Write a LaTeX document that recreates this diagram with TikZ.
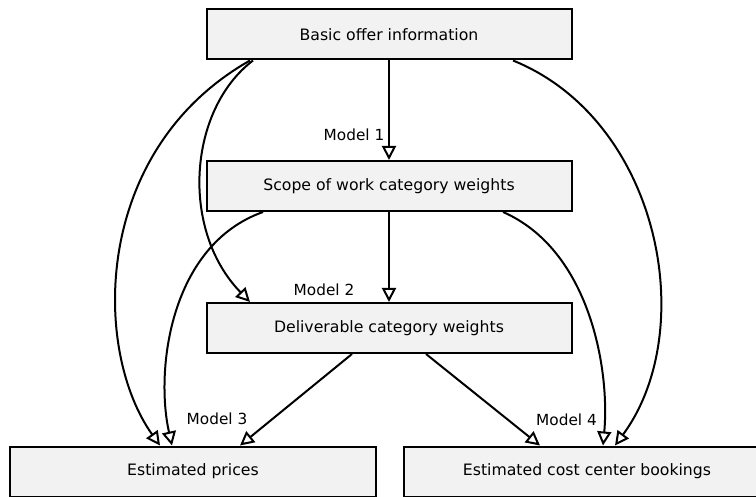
\documentclass[tikz,border=0pt]{standalone}
\usepackage{fontspec}
\setmainfont{DejaVu Sans}
\usetikzlibrary{arrows.meta}
\definecolor{boxgray}{HTML}{F2F2F2}
\begin{document}
\begin{tikzpicture}[x=1pt,y=-1pt,
  box/.style={draw=black,line width=2pt,fill=boxgray,minimum width=365pt,
    minimum height=50pt,inner sep=0pt,font=\fontsize{15.7}{18}\selectfont},
  flow/.style={line width=2pt,-{Triangle[length=14pt,width=14pt,fill=white]}},
  lbl/.style={font=\fontsize{15.3}{18}\selectfont,inner sep=0pt}]
\useasboundingbox (0,0) rectangle (756,497);

% boxes
\node[box] (basic) at (389,34.5) {Basic offer information};
\node[box] (scope) at (389,186) {Scope of work category weights};
\node[box] (deliv) at (389,328) {Deliverable category weights};
\node[box,minimum width=366pt] (prices) at (193,471.5) {Estimated prices};
\node[box,minimum width=366pt] (cost) at (587,471.5) {Estimated cost center bookings};

% model labels
\node[lbl] (m1) at (354,135) {Model 1};
\node[lbl] (m2) at (324,290) {Model 2};
\node[lbl] (m3) at (217,419) {Model 3};
\node[lbl] (m4) at (566.5,420) {Model 4};

% straight connectors
\draw[flow] (basic.south) -- (scope.north);
\draw[flow] (scope.south) -- (deliv.north);
\draw[flow] ([xshift=-37pt]deliv.south) -- ([xshift=47pt]prices.north);
\draw[flow] ([xshift=37pt]deliv.south) -- ([xshift=-47pt]cost.north);

% curved connectors
\draw[flow] ([xshift=-139pt]basic.south) .. controls (92,150) and (92,350) .. ([xshift=-33pt]prices.north);
\draw[flow] ([xshift=-136pt]basic.south) .. controls (188,110) and (180,230) .. ([xshift=-139pt]deliv.north);
\draw[flow] ([xshift=124pt]basic.south) .. controls (660,120) and (700,330) .. ([xshift=28pt]cost.north);
\draw[flow] ([xshift=-126pt]scope.south) .. controls (170,245) and (155,370) .. ([xshift=-21pt]prices.north);
\draw[flow] ([xshift=114pt]scope.south) .. controls (590,250) and (610,370) .. ([xshift=16pt]cost.north);
\end{tikzpicture}
\end{document}
